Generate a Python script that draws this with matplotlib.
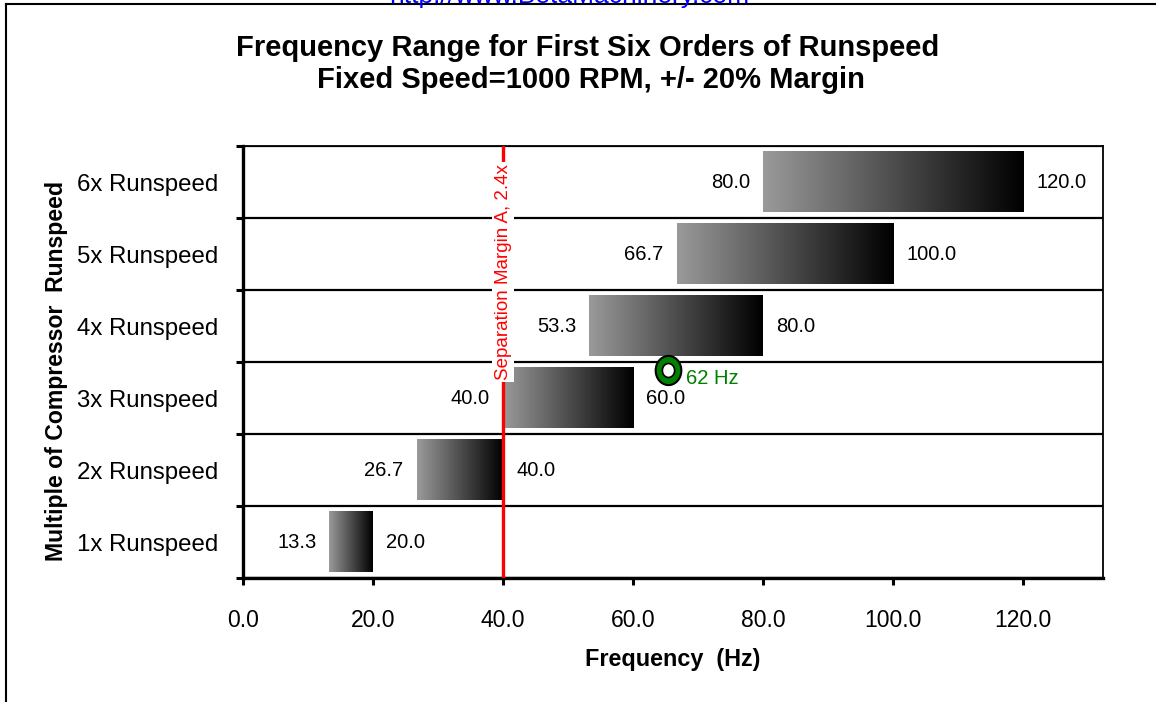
import matplotlib
matplotlib.use("Agg")
import matplotlib.pyplot as plt
import numpy as np
from matplotlib.lines import Line2D
from matplotlib.path import Path
from matplotlib.colors import LinearSegmentedColormap

plt.rcParams['font.family'] = ['Liberation Sans', 'DejaVu Sans']

categories = ["1x Runspeed", "2x Runspeed", "3x Runspeed", "4x Runspeed", "5x Runspeed", "6x Runspeed"]
range_start = [13.3, 26.7, 40.0, 53.3, 66.7, 80.0]
range_end = [20.0, 40.0, 60.0, 80.0, 100.0, 120.0]
xticks = [0, 20, 40, 60, 80, 100, 120]
margin_x = 40.0
margin_label = "Separation Margin A, 2.4x"
point_x = [65.4]
point_y = [2.39]
point_label = "62 Hz"

W, H = 1156, 702
fig = plt.figure(figsize=(W / 100, H / 100), dpi=100)
ax = fig.add_axes([243 / W, 1 - 578 / H, (1103 - 243) / W, (578 - 146) / H])

cmap = LinearSegmentedColormap.from_list("g", ["#9a9a9a", "#000000"])
grad = np.linspace(0, 1, 256).reshape(1, -1)
bh = 0.42
for i, (s, e) in enumerate(zip(range_start, range_end)):
    ax.imshow(grad, cmap=cmap, aspect='auto', extent=[s, e, i - bh, i + bh],
              interpolation='bilinear', zorder=2)
    ax.text(s - 2.0, i, f"{s:.1f}", ha='right', va='center', fontsize=14.5, zorder=4)
    ax.text(e + 2.0, i, f"{e:.1f}", ha='left', va='center', fontsize=14.5, zorder=4)

ax.set_xlim(0, 132.3)
ax.set_ylim(-0.5, 5.5)

# horizontal gridlines at category boundaries
for b in np.arange(-0.5, 6.0, 1.0):
    ax.axhline(b, color='black', lw=1.6, zorder=1)

# separation margin line
ax.axvline(margin_x, color='#ff0000', lw=2.4, zorder=5)
ax.text(margin_x, 3.75, margin_label, rotation=90, ha='center', va='center',
        color='#ff0000', fontsize=13.5, zorder=6,
        bbox=dict(facecolor='white', edgecolor='none', pad=1.5))

# point marker (slightly tall ellipse)
t = np.linspace(0, 2 * np.pi, 64)
ell = Path(np.column_stack([0.88 * np.cos(t), np.sin(t)]), closed=True)
ax.plot(point_x, point_y, linestyle='none', marker=ell, ms=21, mfc='#008000',
        mec='black', mew=1.5, zorder=7)
ax.plot(point_x, point_y, linestyle='none', marker=ell, ms=10, mfc='white',
        mec='black', mew=1.2, zorder=8)
ax.text(point_x[0] + 2.7, point_y[0] - 0.12, point_label, color='#008000',
        ha='left', va='center', fontsize=14.5, zorder=8)

# ticks
ax.set_xticks(xticks)
ax.set_xticklabels([f"{v:.1f}" for v in xticks], fontsize=16.5)
ax.tick_params(axis='x', direction='out', length=5, width=2.2, pad=17)
ax.set_yticks(np.arange(-0.5, 6.0, 1.0))
ax.set_yticklabels([])
ax.tick_params(axis='y', which='major', direction='out', length=5, width=2.2)
ax.set_yticks(range(len(categories)), minor=True)
ax.set_yticklabels(categories, minor=True, fontsize=17.3)
ax.tick_params(axis='y', which='minor', length=0, pad=18)

for sp in ['left', 'bottom']:
    ax.spines[sp].set_linewidth(2.4)
for sp in ['top', 'right']:
    ax.spines[sp].set_linewidth(1.3)

ax.set_xlabel("Frequency  (Hz)", fontsize=16.8, fontweight='bold', labelpad=12)
fig.text(57 / W, 1 - 371 / H, "Multiple of Compressor  Runspeed", rotation=90,
         ha='center', va='center', fontsize=16.6, fontweight='bold')

fig.text(588 / W, 1 - 48 / H, "Frequency Range for First Six Orders of Runspeed",
         ha='center', va='center', fontsize=21, fontweight='bold')
fig.text(591 / W, 1 - 80 / H, "Fixed Speed=1000 RPM, +/- 20% Margin",
         ha='center', va='center', fontsize=21, fontweight='bold')

# URL at the top, partly cut off by the edge as in the reference
fig.text(569 / W, 1 - 3 / H, "http://www.BetaMachinery.com", ha='center',
         va='baseline', color='#0000ff', fontsize=19)

# outer frame
fig.add_artist(Line2D([6 / W, 6 / W], [0, 1 - 4 / H], transform=fig.transFigure,
                      color='black', lw=1.5))
fig.add_artist(Line2D([6 / W, 1], [1 - 4 / H, 1 - 4 / H], transform=fig.transFigure,
                      color='black', lw=1.5))

fig.savefig("out.png", dpi=100)
